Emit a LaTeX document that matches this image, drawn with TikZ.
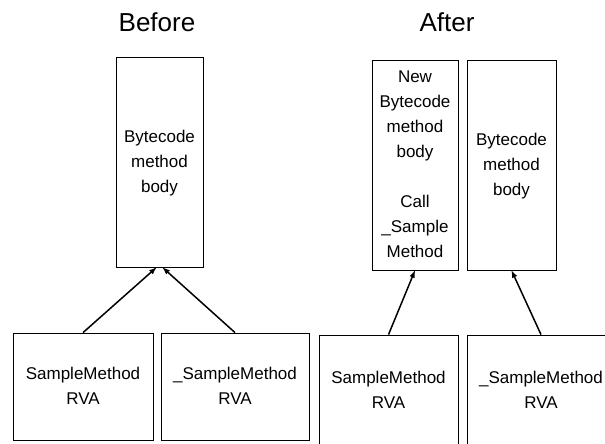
\documentclass[tikz,border=0pt]{standalone}
\usepackage{fontspec}
\setmainfont{Liberation Sans}
\begin{document}
\begin{tikzpicture}[x=1pt,y=-1pt,
    box/.style={draw, line width=0.8pt, inner sep=0pt, font=\fontsize{17}{25}\selectfont},
    title/.style={font=\fontsize{26}{30}\selectfont}]
    \clip (0,0) rectangle (605,444);
    % Before
    \node[title] (before) at (157,22) {Before};
    \node[box, minimum width=87, minimum height=210] (B) at (159.5,162) {
      \begin{tabular}{c}
Bytecode\\ method\\ body
      \end{tabular}};
    \node[box, minimum width=140, minimum height=107] (SM) at (83,386.5) {
      \begin{tabular}{c}
SampleMethod\\ RVA
      \end{tabular}};
    \node[box, minimum width=148, minimum height=107] (USM) at (235,386.5) {
      \begin{tabular}{c}
\_SampleMethod\\ RVA
      \end{tabular}};
    \draw[-latex, line width=1.5pt] (SM.north) -- ([xshift=-3]B.south);
    \draw[-latex, line width=1.5pt] (USM.north) -- ([xshift=3]B.south);
    % After
    \node[title] (after) at (447,22) {After};
    \node[box, minimum width=86, minimum height=210] (NB) at (415,165) {
      \begin{tabular}{c}
New\\ Bytecode\\ method\\ body\\ \\ Call\\ \_Sample\\ Method
      \end{tabular}};
    \node[box, minimum width=89, minimum height=210] (B2) at (511.5,165) {
      \begin{tabular}{c}
Bytecode\\ method\\ body
      \end{tabular}};
    \node[box, minimum width=139, minimum height=111] (SM2) at (388.5,390.5) {
      \begin{tabular}{c}
SampleMethod\\ RVA
      \end{tabular}};
    \node[box, minimum width=148, minimum height=111] (USM2) at (541,390.5) {
      \begin{tabular}{c}
\_SampleMethod\\ RVA
      \end{tabular}};
    \draw[-latex, line width=1.5pt] (SM2.north) -- (NB.south);
    \draw[-latex, line width=1.5pt] (USM2.north) -- (B2.south);
  \end{tikzpicture}
\end{document}
